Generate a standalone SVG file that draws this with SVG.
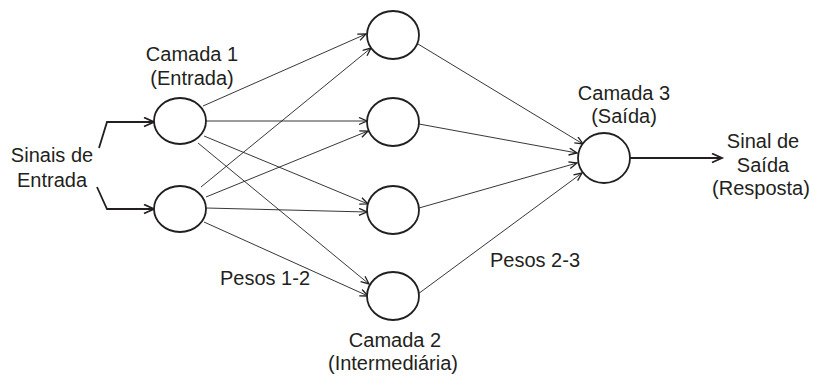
<svg xmlns="http://www.w3.org/2000/svg" width="814" height="376" viewBox="0 0 814 376">
<style>
.n{fill:#fff;stroke:#231f20;stroke-width:1.8}
.c{stroke:#231f20;stroke-width:0.9;fill:none}
.t{stroke:#231f20;stroke-width:1.8;fill:none}
text{font-family:"Liberation Sans",Arial,sans-serif;font-size:20px;fill:#231f20;text-anchor:middle}
</style>
<defs>
<marker id="a" markerWidth="12" markerHeight="10" refX="9" refY="4" orient="auto" markerUnits="userSpaceOnUse">
<path d="M1,0.5 L9,4 L1,7.5" fill="none" stroke="#231f20" stroke-width="1.3"/>
</marker>
<marker id="b" markerWidth="14" markerHeight="12" refX="11" refY="5" orient="auto" markerUnits="userSpaceOnUse">
<path d="M1,0.5 L11,5 L1,9.5" fill="none" stroke="#231f20" stroke-width="1.8"/>
</marker>
</defs>
<g id="connectors">
<line class="c" x1="203" y1="106" x2="366" y2="34" marker-end="url(#a)"/>
<line class="c" x1="206" y1="121" x2="367" y2="121" marker-end="url(#a)"/>
<line class="c" x1="204" y1="136" x2="368" y2="204" marker-end="url(#a)"/>
<line class="c" x1="198" y1="143" x2="369" y2="284" marker-end="url(#a)"/>
<line class="c" x1="201" y1="187" x2="371" y2="48" marker-end="url(#a)"/>
<line class="c" x1="206" y1="197" x2="368" y2="131" marker-end="url(#a)"/>
<line class="c" x1="206" y1="208" x2="367" y2="212" marker-end="url(#a)"/>
<line class="c" x1="204" y1="222" x2="368" y2="296" marker-end="url(#a)"/>
<line class="c" x1="418" y1="44" x2="583" y2="144" marker-end="url(#a)"/>
<line class="c" x1="419" y1="124" x2="577" y2="153" marker-end="url(#a)"/>
<line class="c" x1="419" y1="208" x2="577" y2="163" marker-end="url(#a)"/>
<line class="c" x1="418" y1="294" x2="582" y2="173" marker-end="url(#a)"/>
<polyline class="t" points="99,148 107,122 154,122" marker-end="url(#b)"/>
<polyline class="t" points="97,187 107,209 154,209" marker-end="url(#b)"/>
<line class="t" x1="630" y1="158" x2="722" y2="158" marker-end="url(#b)"/>
</g>
<g id="in1"><ellipse class="n" cx="180" cy="121" rx="26" ry="23"/></g>
<g id="in2"><ellipse class="n" cx="180" cy="209" rx="26" ry="23"/></g>
<g id="h1"><ellipse class="n" cx="393" cy="35" rx="26" ry="24"/></g>
<g id="h2"><ellipse class="n" cx="393" cy="122" rx="26" ry="24"/></g>
<g id="h3"><ellipse class="n" cx="393" cy="210" rx="26" ry="24"/></g>
<g id="h4"><ellipse class="n" cx="393" cy="296" rx="26" ry="24"/></g>
<g id="out"><ellipse class="n" cx="604" cy="158" rx="26" ry="25"/></g>
<g id="labels">
<text x="52" y="162">Sinais de</text>
<text x="52" y="187">Entrada</text>
<text x="192" y="61">Camada 1</text>
<text x="192" y="85">(Entrada)</text>
<text x="395" y="347">Camada 2</text>
<text x="393" y="370">(Intermediária)</text>
<text x="624" y="100">Camada 3</text>
<text x="624" y="123">(Saída)</text>
<text x="763" y="148">Sinal de</text>
<text x="763" y="172">Saída</text>
<text x="761" y="195">(Resposta)</text>
<text x="265" y="285">Pesos 1-2</text>
<text x="535" y="267">Pesos 2-3</text>
</g>
</svg>
